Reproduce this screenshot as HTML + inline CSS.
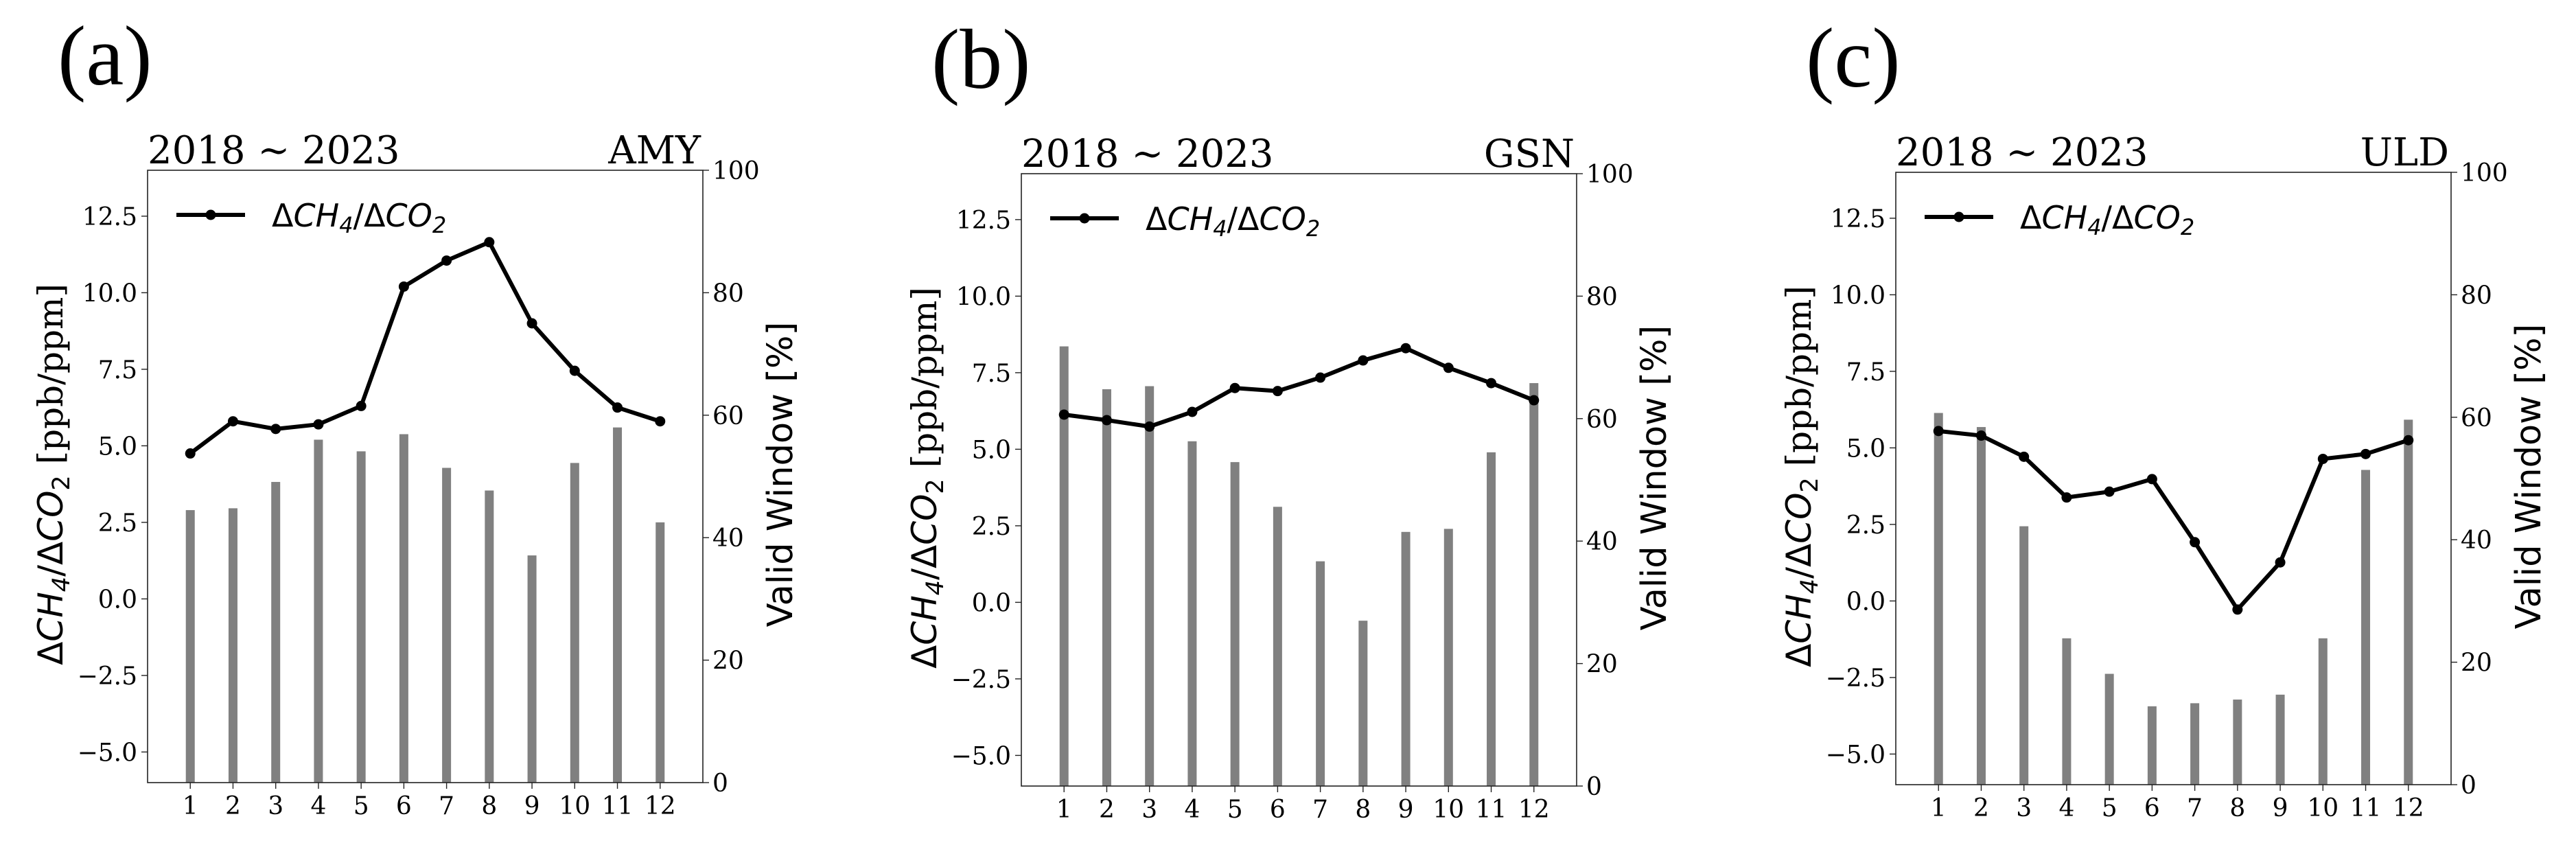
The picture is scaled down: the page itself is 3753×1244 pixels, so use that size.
<!DOCTYPE html>
<html><head><meta charset="utf-8">
<style>
html,body{margin:0;padding:0;background:#fff;}
svg{display:block;}
</style></head>
<body>
<svg id="fig" xmlns="http://www.w3.org/2000/svg" width="3753" height="1244" viewBox="0 0 3753 1244">
<rect x="0" y="0" width="3753" height="1244" fill="#fff"/>
</svg>
<script>
const months = [1,2,3,4,5,6,7,8,9,10,11,12];
const panelLabels = ["(a)","(b)","(c)"];
const stations = ["AMY","GSN","ULD"];
const ratioAMY = [4.75,5.8,5.55,5.7,6.3,10.2,11.05,11.65,9.0,7.45,6.25,5.8];
const ratioGSN = [6.13,5.95,5.74,6.22,7.0,6.9,7.34,7.9,8.3,7.66,7.16,6.6];
const ratioULD = [5.55,5.4,4.71,3.38,3.57,3.98,1.92,-0.28,1.26,4.64,4.8,5.25];
const validAMY = [44.5,44.8,49.1,56.0,54.1,56.9,51.4,47.7,37.1,52.2,58.0,42.5];
const validGSN = [71.8,64.8,65.3,56.3,52.9,45.6,36.7,27.0,41.5,42.0,54.5,65.8];
const validULD = [60.7,58.4,42.2,23.9,18.1,12.8,13.3,13.9,14.7,23.9,51.4,59.6];
const leftTicks = [-5.0,-2.5,0.0,2.5,5.0,7.5,10.0,12.5];
const rightTicks = [0,20,40,60,80,100];

const NS = "http://www.w3.org/2000/svg";
const fig = document.getElementById('fig');
function mk(tag, attrs, parent){
  const e = document.createElementNS(NS, tag);
  for (const k in attrs) e.setAttribute(k, attrs[k]);
  (parent||fig).appendChild(e);
  return e;
}
const SERIF = '"DejaVu Serif","Liberation Serif",serif';
const SANS = '"DejaVu Sans","Liberation Sans",sans-serif';
const TIMES = '"Liberation Serif",serif';

const panels = [
  {L:215, T:248, ratio:ratioAMY, valid:validAMY},
  {L:1488, T:253, ratio:ratioGSN, valid:validGSN},
  {L:2762, T:251, ratio:ratioULD, valid:validULD}
];
const W = 809, H = 892;

panels.forEach((p, i) => {
  const g = mk('g', {});
  
  
  const L = p.L, T = p.T;
  const xs = m => L + (m / 13) * W;
  const yl = v => T + (14 - v) / 20 * H;
  const yr = v => T + (100 - v) / 100 * H;

  let t = mk('text', {x:L-131, y:T-125, 'font-family':TIMES, 'font-size':124, fill:'#000'}, g);
  t.textContent = panelLabels[i];
  
  

  t = mk('text', {x:L, y:T-10, 'font-family':SERIF, 'font-size':56, fill:'#000'}, g);
  t.textContent = "2018 ~ 2023";
  
  

  t = mk('text', {x:L+W-3, y:T-10, 'font-family':SERIF, 'font-size':56, fill:'#000', 'text-anchor':'end'}, g);
  t.textContent = stations[i];
  
  

  months.forEach((m, k) => {
    const b = mk('rect', {x:xs(m)-6.5, y:yr(p.valid[k]), width:13, height:yr(0)-yr(p.valid[k]), fill:'#808080'}, g);
    
    
  });

  const pts = months.map((m, k) => xs(m) + ',' + yl(p.ratio[k])).join(' ');
  const ln = mk('polyline', {points:pts, fill:'none', stroke:'#000', 'stroke-width':6, 'stroke-linejoin':'round'}, g);
  
  
  months.forEach((m, k) => {
    const c = mk('circle', {cx:xs(m), cy:yl(p.ratio[k]), r:7.5, fill:'#000'}, g);
    
    
  });

  const fr = mk('rect', {x:L, y:T, width:W, height:H, fill:'none', stroke:'#222', 'stroke-width':1.6}, g);
  
  

  leftTicks.forEach(v => {
    mk('line', {x1:L-9, x2:L, y1:yl(v), y2:yl(v), stroke:'#222', 'stroke-width':1.4}, g);
    const tt = mk('text', {x:L-15, y:yl(v)+13, 'font-family':SERIF, 'font-size':36, fill:'#000', 'text-anchor':'end'}, g);
    tt.textContent = (v < 0 ? '\u2212' : '') + Math.abs(v).toFixed(1);
    
    
  });
  rightTicks.forEach(v => {
    mk('line', {x1:L+W, x2:L+W+9, y1:yr(v), y2:yr(v), stroke:'#222', 'stroke-width':1.4}, g);
    const tt = mk('text', {x:L+W+14, y:yr(v)+13, 'font-family':SERIF, 'font-size':36, fill:'#000'}, g);
    tt.textContent = String(v);
    
    
  });
  months.forEach(m => {
    mk('line', {x1:xs(m), x2:xs(m), y1:T+H, y2:T+H+9, stroke:'#222', 'stroke-width':1.4}, g);
    const tt = mk('text', {x:xs(m), y:T+H+46, 'font-family':SERIF, 'font-size':36, fill:'#000', 'text-anchor':'middle'}, g);
    tt.textContent = String(m);
    
    
  });

  const cy = T + H/2 - 3;
  let yt = mk('text', {x:0, y:0, 'font-family':SANS, 'font-size':50, fill:'#000', 'text-anchor':'middle', transform:'translate('+(L-124)+','+cy+') rotate(-90)'}, g);
  yt.innerHTML = '\u0394<tspan font-style="italic">CH</tspan><tspan font-style="italic" font-size="35" dy="10">4</tspan><tspan dy="-10">/\u0394</tspan><tspan font-style="italic">CO</tspan><tspan font-size="35" dy="10">2</tspan><tspan dy="-10" font-family=\'"DejaVu Serif",serif\'> [ppb/ppm]</tspan>';
  
  

  yt = mk('text', {x:0, y:0, 'font-family':SANS, 'font-size':51, fill:'#000', 'text-anchor':'middle', transform:'translate('+(L+W+130)+','+cy+') rotate(-90)'}, g);
  yt.textContent = 'Valid Window [%]';
  
  

  const lg = mk('g', {}, g);
  
  
  mk('line', {x1:L+42, x2:L+142, y1:T+65, y2:T+65, stroke:'#000', 'stroke-width':6}, lg);
  mk('circle', {cx:L+92, cy:T+65, r:7.5, fill:'#000'}, lg);
  const lt = mk('text', {x:L+181, y:T+82, 'font-family':SANS, 'font-size':46, fill:'#000'}, lg);
  lt.innerHTML = '\u0394<tspan font-style="italic">CH</tspan><tspan font-style="italic" font-size="32" dy="9">4</tspan><tspan dy="-9">/\u0394</tspan><tspan font-style="italic">CO</tspan><tspan font-style="italic" font-size="32" dy="9">2</tspan>';
});
</script>
</body></html>
